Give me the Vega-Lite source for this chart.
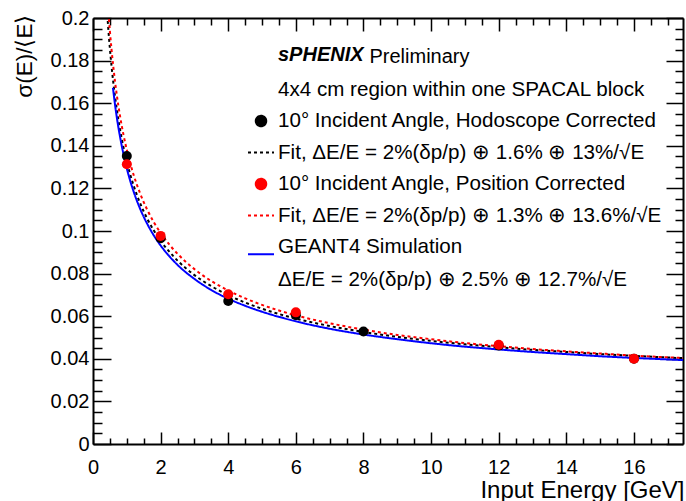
{
  "$schema": "https://vega.github.io/schema/vega-lite/v6.json",
  "autosize": {"type": "none"},
  "width": 590,
  "height": 426,
  "padding": {"left": 93, "top": 18, "right": 3, "bottom": 57},
  "title": {
    "text": "Linearity, Energy Resolution",
    "color": "#1c2f6e",
    "font": "Liberation Sans",
    "fontSize": 26,
    "fontWeight": "normal",
    "anchor": "start",
    "frame": "group",
    "baseline": "alphabetic",
    "offset": 18,
    "dx": 209
  },
  "datasets": {
    "curves": [
      {"E": 0.4, "r": 0.2071, "s": "hodofit"}, {"E": 0.45, "r": 0.1955, "s": "hodofit"}, {"E": 0.5, "r": 0.1856, "s": "hodofit"},
      {"E": 0.55, "r": 0.1772, "s": "hodofit"}, {"E": 0.6, "r": 0.1698, "s": "hodofit"}, {"E": 0.65, "r": 0.1633, "s": "hodofit"},
      {"E": 0.7, "r": 0.1575, "s": "hodofit"}, {"E": 0.8, "r": 0.1476, "s": "hodofit"}, {"E": 0.9, "r": 0.1394, "s": "hodofit"},
      {"E": 1, "r": 0.1325, "s": "hodofit"}, {"E": 1.1, "r": 0.1266, "s": "hodofit"}, {"E": 1.2, "r": 0.1214, "s": "hodofit"},
      {"E": 1.4, "r": 0.1128, "s": "hodofit"}, {"E": 1.6, "r": 0.1059, "s": "hodofit"}, {"E": 1.8, "r": 0.1002, "s": "hodofit"},
      {"E": 2, "r": 0.0954, "s": "hodofit"}, {"E": 2.25, "r": 0.0904, "s": "hodofit"}, {"E": 2.5, "r": 0.0861, "s": "hodofit"},
      {"E": 3, "r": 0.0793, "s": "hodofit"}, {"E": 3.5, "r": 0.0741, "s": "hodofit"}, {"E": 4, "r": 0.0699, "s": "hodofit"},
      {"E": 4.5, "r": 0.0664, "s": "hodofit"}, {"E": 5, "r": 0.0635, "s": "hodofit"}, {"E": 6, "r": 0.0589, "s": "hodofit"},
      {"E": 7, "r": 0.0554, "s": "hodofit"}, {"E": 8, "r": 0.0526, "s": "hodofit"}, {"E": 9, "r": 0.0503, "s": "hodofit"},
      {"E": 10, "r": 0.0484, "s": "hodofit"}, {"E": 11, "r": 0.0468, "s": "hodofit"}, {"E": 12, "r": 0.0454, "s": "hodofit"},
      {"E": 13, "r": 0.0442, "s": "hodofit"}, {"E": 14, "r": 0.0432, "s": "hodofit"}, {"E": 15, "r": 0.0422, "s": "hodofit"},
      {"E": 16, "r": 0.0414, "s": "hodofit"}, {"E": 17, "r": 0.0406, "s": "hodofit"}, {"E": 17.45, "r": 0.0403, "s": "hodofit"},

      {"E": 0.4, "r": 0.2164, "s": "posfit"}, {"E": 0.45, "r": 0.2041, "s": "posfit"}, {"E": 0.5, "r": 0.1938, "s": "posfit"},
      {"E": 0.55, "r": 0.1849, "s": "posfit"}, {"E": 0.6, "r": 0.1772, "s": "posfit"}, {"E": 0.65, "r": 0.1704, "s": "posfit"},
      {"E": 0.7, "r": 0.1643, "s": "posfit"}, {"E": 0.8, "r": 0.1539, "s": "posfit"}, {"E": 0.9, "r": 0.1453, "s": "posfit"},
      {"E": 1, "r": 0.1381, "s": "posfit"}, {"E": 1.1, "r": 0.1319, "s": "posfit"}, {"E": 1.2, "r": 0.1264, "s": "posfit"},
      {"E": 1.4, "r": 0.1174, "s": "posfit"}, {"E": 1.6, "r": 0.1101, "s": "posfit"}, {"E": 1.8, "r": 0.1041, "s": "posfit"},
      {"E": 2, "r": 0.0991, "s": "posfit"}, {"E": 2.25, "r": 0.0938, "s": "posfit"}, {"E": 2.5, "r": 0.0893, "s": "posfit"},
      {"E": 3, "r": 0.0821, "s": "posfit"}, {"E": 3.5, "r": 0.0765, "s": "posfit"}, {"E": 4, "r": 0.0721, "s": "posfit"},
      {"E": 4.5, "r": 0.0684, "s": "posfit"}, {"E": 5, "r": 0.0653, "s": "posfit"}, {"E": 6, "r": 0.0604, "s": "posfit"},
      {"E": 7, "r": 0.0567, "s": "posfit"}, {"E": 8, "r": 0.0537, "s": "posfit"}, {"E": 9, "r": 0.0512, "s": "posfit"},
      {"E": 10, "r": 0.0492, "s": "posfit"}, {"E": 11, "r": 0.0474, "s": "posfit"}, {"E": 12, "r": 0.0459, "s": "posfit"},
      {"E": 13, "r": 0.0446, "s": "posfit"}, {"E": 14, "r": 0.0435, "s": "posfit"}, {"E": 15, "r": 0.0425, "s": "posfit"},
      {"E": 16, "r": 0.0415, "s": "posfit"}, {"E": 17, "r": 0.0407, "s": "posfit"}, {"E": 17.45, "r": 0.0404, "s": "posfit"},

      {"E": 0.59, "r": 0.1672, "s": "geant"}, {"E": 0.65, "r": 0.1595, "s": "geant"}, {"E": 0.7, "r": 0.1538, "s": "geant"},
      {"E": 0.8, "r": 0.1442, "s": "geant"}, {"E": 0.9, "r": 0.1362, "s": "geant"}, {"E": 1, "r": 0.1294, "s": "geant"},
      {"E": 1.1, "r": 0.1236, "s": "geant"}, {"E": 1.2, "r": 0.1186, "s": "geant"}, {"E": 1.4, "r": 0.1102, "s": "geant"},
      {"E": 1.6, "r": 0.1035, "s": "geant"}, {"E": 1.8, "r": 0.0979, "s": "geant"}, {"E": 2, "r": 0.0932, "s": "geant"},
      {"E": 2.25, "r": 0.0883, "s": "geant"}, {"E": 2.5, "r": 0.0841, "s": "geant"}, {"E": 3, "r": 0.0775, "s": "geant"},
      {"E": 3.5, "r": 0.0723, "s": "geant"}, {"E": 4, "r": 0.0682, "s": "geant"}, {"E": 4.5, "r": 0.0649, "s": "geant"},
      {"E": 5, "r": 0.0621, "s": "geant"}, {"E": 6, "r": 0.0576, "s": "geant"}, {"E": 7, "r": 0.0541, "s": "geant"},
      {"E": 8, "r": 0.0514, "s": "geant"}, {"E": 9, "r": 0.0492, "s": "geant"}, {"E": 10, "r": 0.0473, "s": "geant"},
      {"E": 11, "r": 0.0457, "s": "geant"}, {"E": 12, "r": 0.0444, "s": "geant"}, {"E": 13, "r": 0.0432, "s": "geant"},
      {"E": 14, "r": 0.0422, "s": "geant"}, {"E": 15, "r": 0.0412, "s": "geant"}, {"E": 16, "r": 0.0404, "s": "geant"},
      {"E": 17, "r": 0.0397, "s": "geant"}, {"E": 17.45, "r": 0.0394, "s": "geant"}
    ],
    "points": [
      {"E": 1, "r": 0.1352, "s": "hodo"}, {"E": 2, "r": 0.0966, "s": "hodo"}, {"E": 4, "r": 0.0671, "s": "hodo"},
      {"E": 6, "r": 0.0605, "s": "hodo"}, {"E": 8, "r": 0.0528, "s": "hodo"}, {"E": 12, "r": 0.0462, "s": "hodo"},
      {"E": 16, "r": 0.0400, "s": "hodo"},
      {"E": 1, "r": 0.1313, "s": "pos"}, {"E": 2, "r": 0.0977, "s": "pos"}, {"E": 4, "r": 0.0703, "s": "pos"},
      {"E": 6, "r": 0.0618, "s": "pos"}, {"E": 12, "r": 0.0466, "s": "pos"}, {"E": 16, "r": 0.0400, "s": "pos"}
    ]
  },
  "layer": [
    {
      "data": {"name": "curves"},
      "mark": {"type": "line", "clip": true, "strokeWidth": 2, "interpolate": "monotone"},
      "encoding": {
        "x": {
          "field": "E", "type": "quantitative",
          "scale": {"domain": [0, 17.45], "nice": false, "zero": false},
          "axis": {
            "orient": "bottom",
            "values": [0,0.5,1,1.5,2,2.5,3,3.5,4,4.5,5,5.5,6,6.5,7,7.5,8,8.5,9,9.5,10,10.5,11,11.5,12,12.5,13,13.5,14,14.5,15,15.5,16,16.5,17],
            "labelExpr": "datum.value % 2 === 0 ? format(datum.value, 'd') : ''",
            "tickSize": {"condition": {"test": "datum.value % 2 === 0", "value": -12}, "value": -6},
            "labelPadding": 25,
            "title": "Input Energy [GeV]",
            "titleFontSize": 24,
            "titleAlign": "right",
            "titleBaseline": "alphabetic",
            "titleX": 591,
            "titleY": 53
          }
        },
        "y": {
          "field": "r", "type": "quantitative",
          "scale": {"domain": [0, 0.2], "nice": false, "zero": false},
          "axis": {
            "orient": "left",
            "values": [0,0.005,0.01,0.015,0.02,0.025,0.03,0.035,0.04,0.045,0.05,0.055,0.06,0.065,0.07,0.075,0.08,0.085,0.09,0.095,0.1,0.105,0.11,0.115,0.12,0.125,0.13,0.135,0.14,0.145,0.15,0.155,0.16,0.165,0.17,0.175,0.18,0.185,0.19,0.195,0.2],
            "labelExpr": "abs(round(datum.value * 50) - datum.value * 50) < 0.000001 ? format(datum.value, '~g') : ''",
            "tickSize": {"condition": {"test": "abs(round(datum.value * 50) - datum.value * 50) < 0.000001", "value": -18}, "value": -9},
            "labelPadding": 22,
            "title": "σ(E)/⟨E⟩",
            "titleFontSize": 22.5,
            "titleAngle": -90,
            "titleAlign": "right",
            "titleBaseline": "middle",
            "titleX": -69,
            "titleY": -4
          }
        },
        "color": {
          "field": "s", "type": "nominal",
          "scale": {
            "domain": ["hdr", "hodo", "hodofit", "pos", "posfit", "geant", "geantfx"],
            "range": ["white", "black", "black", "red", "red", "blue", "white"]
          },
          "legend": {
            "orient": "none",
            "legendX": 154,
            "legendY": 26.5,
            "padding": 0,
            "title": "sPHENIX",
            "titleFont": "Liberation Sans",
            "titleFontSize": 20,
            "titleFontWeight": "bold",
            "titleFontStyle": "italic",
            "titleColor": "black",
            "titlePadding": 11,
            "titleLimit": 400,
            "labelFont": "Liberation Sans",
            "labelFontSize": 20.6,
            "labelColor": "black",
            "labelLimit": 500,
            "labelOffset": 3,
            "symbolSize": 676,
            "rowPadding": 6.5,
            "labelExpr": "{'hdr': '4x4 cm region within one SPACAL block', 'hodo': '10° Incident Angle, Hodoscope Corrected', 'hodofit': 'Fit, ΔE/E = 2%(δp/p) ⊕ 1.6% ⊕ 13%/√E', 'pos': '10° Incident Angle, Position Corrected', 'posfit': 'Fit, ΔE/E = 2%(δp/p) ⊕ 1.3% ⊕ 13.6%/√E', 'geant': 'GEANT4 Simulation', 'geantfx': 'ΔE/E = 2%(δp/p) ⊕ 2.5% ⊕ 12.7%/√E'}[datum.value]",
            "encode": {
              "title": {"update": {"dx": {"value": 31}}},
              "symbols": {
                "update": {
                  "shape": {"signal": "datum.value === 'hodo' || datum.value === 'pos' ? 'circle' : datum.value === 'geant' ? 'M-1,0.55H1' : 'M-1,0H1'"},
                  "size": {"signal": "datum.value === 'hodo' || datum.value === 'pos' ? 110 : 676"},
                  "fill": {"signal": "datum.value === 'hodo' ? 'black' : datum.value === 'pos' ? 'red' : 'transparent'"},
                  "stroke": {"signal": "datum.value === 'hodofit' ? 'black' : datum.value === 'posfit' ? 'red' : datum.value === 'geant' ? 'blue' : 'transparent'"},
                  "strokeWidth": {"value": 2},
                  "strokeDash": {"signal": "datum.value === 'hodofit' || datum.value === 'posfit' ? [3, 3] : [1, 0]"},
                  "opacity": {"value": 1}
                }
              }
            }
          }
        },
        "strokeDash": {
          "field": "s", "type": "nominal",
          "scale": {"domain": ["hodofit", "posfit", "geant"], "range": [[3, 3], [3, 3], [1, 0]]},
          "legend": null
        }
      }
    },
    {
      "data": {"name": "points"},
      "mark": {"type": "point", "filled": true, "size": 100, "opacity": 1, "strokeWidth": 0},
      "encoding": {
        "x": {
          "field": "E", "type": "quantitative",
          "axis": {
            "orient": "top",
            "values": [0,0.5,1,1.5,2,2.5,3,3.5,4,4.5,5,5.5,6,6.5,7,7.5,8,8.5,9,9.5,10,10.5,11,11.5,12,12.5,13,13.5,14,14.5,15,15.5,16,16.5,17],
            "labels": false,
            "tickSize": {"condition": {"test": "datum.value % 2 === 0", "value": -13}, "value": -7},
            "title": "Preliminary",
            "titleFontSize": 20,
            "titleAngle": 0,
            "titleAlign": "left",
            "titleBaseline": "middle",
            "titleX": 276,
            "titleY": 38
          }
        },
        "y": {
          "field": "r", "type": "quantitative",
          "axis": {
            "orient": "right",
            "values": [0,0.005,0.01,0.015,0.02,0.025,0.03,0.035,0.04,0.045,0.05,0.055,0.06,0.065,0.07,0.075,0.08,0.085,0.09,0.095,0.1,0.105,0.11,0.115,0.12,0.125,0.13,0.135,0.14,0.145,0.15,0.155,0.16,0.165,0.17,0.175,0.18,0.185,0.19,0.195,0.2],
            "labels": false,
            "tickSize": {"condition": {"test": "abs(round(datum.value * 50) - datum.value * 50) < 0.000001", "value": -17}, "value": -8},
            "title": null
          }
        },
        "color": {"field": "s", "type": "nominal"}
      }
    }
  ],
  "resolve": {"axis": {"x": "independent", "y": "independent"}},
  "config": {
    "font": "Liberation Sans",
    "view": {"stroke": null},
    "axis": {
      "domainColor": "black",
      "domainWidth": 2,
      "tickColor": "black",
      "tickWidth": 1.5,
      "labelColor": "black",
      "labelFont": "Liberation Sans",
      "labelFontSize": 20,
      "titleFont": "Liberation Sans",
      "titleColor": "black",
      "titleFontWeight": "normal",
      "grid": false,
      "labelFlush": false,
      "labelOverlap": false
    }
  }
}
